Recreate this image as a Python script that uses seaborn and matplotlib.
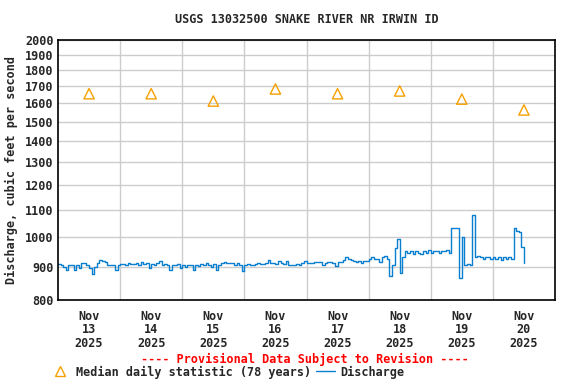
import numpy as np
import pandas as pd
import seaborn as sns
import matplotlib.pyplot as plt
from matplotlib.ticker import FixedLocator, NullLocator, FixedFormatter
from matplotlib.lines import Line2D

# ---- data (hourly discharge, cfs) ----
start = "2025-11-13 00:00"
q_nov13 = [907, 905, 900, 890, 905, 905, 890, 905, 895, 910, 913, 905,
           895, 878, 900, 912, 920, 918, 915, 905, 905, 905, 890, 905]
q_nov14 = [907, 907, 905, 910, 908, 907, 910, 905, 915, 907, 910, 895,
           907, 905, 910, 918, 905, 908, 905, 890, 905, 905, 907, 895]
q_nov15 = [905, 900, 905, 905, 890, 905, 903, 907, 905, 910, 905, 900,
           908, 888, 905, 910, 915, 912, 910, 910, 905, 912, 905, 885]
q_nov16 = [905, 907, 905, 905, 907, 910, 907, 907, 910, 920, 912, 910,
           907, 917, 910, 908, 917, 905, 905, 905, 907, 905, 910, 918]
q_nov17 = [912, 912, 910, 915, 915, 915, 905, 912, 915, 915, 910, 903,
           915, 915, 920, 930, 925, 920, 918, 915, 918, 910, 918, 918]
q_nov18 = [925, 930, 925, 925, 915, 930, 935, 925, 870, 905, 960, 993,
           880, 930, 950, 945, 950, 940, 950, 945, 940, 950, 945, 955]
q_nov19 = [945, 950, 950, 945, 952, 950, 955, 945, 1030, 1030, 1030, 865,
           1000, 905, 907, 905, 1080, 930, 935, 930, 925, 930, 932, 925]
q_nov20 = [930, 925, 930, 922, 930, 925, 930, 925, 1030, 1020, 1015, 965, 910]

median_days = ["2025-11-13", "2025-11-14", "2025-11-15", "2025-11-16",
               "2025-11-17", "2025-11-18", "2025-11-19", "2025-11-20"]
median_vals = [1655, 1655, 1613, 1683, 1655, 1671, 1624, 1563]

y_ticks = [800, 900, 1000, 1100, 1200, 1300, 1400, 1500, 1600, 1700, 1800, 1900, 2000]
x_labels = ["Nov\n13\n2025", "Nov\n14\n2025", "Nov\n15\n2025", "Nov\n16\n2025",
            "Nov\n17\n2025", "Nov\n18\n2025", "Nov\n19\n2025", "Nov\n20\n2025"]

# ---- build frames ----
q_all = q_nov13 + q_nov14 + q_nov15 + q_nov16 + q_nov17 + q_nov18 + q_nov19 + q_nov20
df_q = pd.DataFrame({"time": pd.date_range(start, periods=len(q_all), freq="h"),
                     "discharge": q_all})
df_med = pd.DataFrame({"time": pd.to_datetime(median_days) + pd.Timedelta(hours=12),
                       "median": median_vals})

sns.set_style("white")
plt.rcParams["font.family"] = ["DejaVu Sans Mono"]
plt.rcParams["font.weight"] = "bold"
FS = 8.5

fig = plt.figure(figsize=(5.76, 3.84), dpi=100)
ax = fig.add_axes([58 / 576, 1 - 300 / 384, 497 / 576, 260 / 384])

blue = "#0a7fcf"
orange = "#f5a000"

sns.lineplot(data=df_q, x="time", y="discharge", ax=ax, color=blue,
             linewidth=1.0, drawstyle="steps-post")
sns.scatterplot(data=df_med, x="time", y="median", ax=ax, marker="^", s=55,
                facecolor="none", edgecolor=orange, linewidth=1.0, zorder=5)

ax.set_yscale("log")
ax.set_ylim(800, 2000)
ax.yaxis.set_major_locator(FixedLocator(y_ticks))
ax.yaxis.set_major_formatter(FixedFormatter([str(v) for v in y_ticks]))
ax.yaxis.set_minor_locator(NullLocator())

x0 = pd.Timestamp("2025-11-13")
x1 = pd.Timestamp("2025-11-21")
ax.set_xlim(x0, x1)
ax.set_xticks(df_med["time"])
ax.set_xticklabels(x_labels, linespacing=1.05)
ax.set_xticks(pd.date_range("2025-11-14", "2025-11-20", freq="D"), minor=True)

ax.grid(True, which="major", axis="y", color="#cccccc", linewidth=1)
ax.grid(True, which="minor", axis="x", color="#cccccc", linewidth=1)
ax.set_axisbelow(True)
ax.tick_params(axis="both", which="both", length=0, labelsize=FS, pad=3)
ax.tick_params(axis="x", pad=7)
for lab in ax.get_xticklabels() + ax.get_yticklabels():
    lab.set_fontweight("bold")
for s in ax.spines.values():
    s.set_color("black")
    s.set_linewidth(1.2)

ax.set_xlabel("")
ax.set_ylabel("Discharge, cubic feet per second", fontsize=FS, fontweight="bold", labelpad=5)
ax.set_title("USGS 13032500 SNAKE RIVER NR IRWIN ID", fontsize=FS, fontweight="bold", pad=12)

fig.text(305 / 576, 1 - 359 / 384, "---- Provisional Data Subject to Revision ----",
         color="red", fontsize=FS, fontweight="bold", ha="center", va="center")

handles = [Line2D([], [], marker="^", linestyle="none", markerfacecolor="none",
                  markeredgecolor=orange, markersize=7),
           Line2D([], [], color=blue, linewidth=1.0)]
fig.legend(handles, ["Median daily statistic (78 years)", "Discharge"],
           loc="center left", bbox_to_anchor=(51 / 576, 1 - 372 / 384), ncol=2,
           frameon=False, fontsize=FS, handlelength=1.6, handletextpad=0.5,
           columnspacing=0.4, borderaxespad=0, borderpad=0)

plt.savefig("out.png", dpi=100)
